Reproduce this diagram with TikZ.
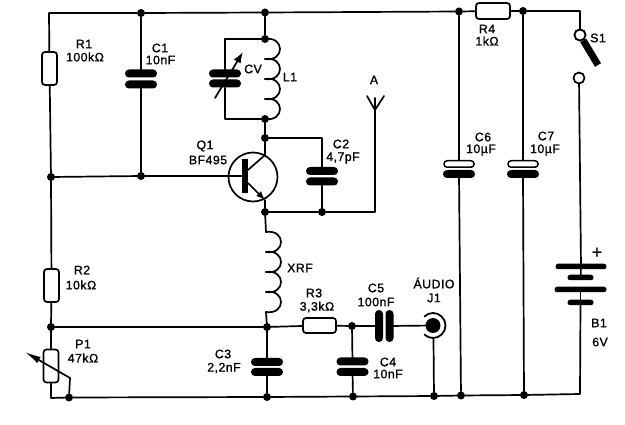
\documentclass[tikz,border=0pt]{standalone}
\usepackage{fontspec}
\setmainfont[LetterSpace=4,FakeBold=1.2]{Liberation Sans}
\usetikzlibrary{arrows.meta}
\tikzset{
  wire/.style={line width=1.7pt,line cap=round,line join=round},
  dot/.style={circle,fill=black,inner sep=0pt,minimum size=8pt},
  res/.style={draw,fill=white,line width=1.7pt,rounded corners=3pt,inner sep=0pt},
  plate/.style={fill=black,rounded corners=3.9pt,inner sep=0pt,minimum width=32pt,minimum height=8pt},
  vplate/.style={fill=black,rounded corners=3.9pt,inner sep=0pt,minimum width=8pt,minimum height=32pt},
  openplate/.style={draw,fill=white,line width=1.5pt,rounded corners=3pt,inner sep=0pt,minimum width=30pt,minimum height=6.5pt},
  cell/.style={fill=black,rounded corners=2.6pt,inner sep=0pt,minimum height=5.5pt},
  contact/.style={circle,draw,fill=white,line width=1.7pt,inner sep=0pt,minimum size=11pt},
  lab/.style={font=\fontsize{12.3}{14}\selectfont,inner sep=0pt},
  biglab/.style={font=\fontsize{18}{18}\selectfont,inner sep=0pt},
}
\begin{document}
\begin{tikzpicture}[x=1pt,y=-1pt]
\useasboundingbox[fill=white] (0,0) rectangle (625,425);
% junctions
\coordinate (TL) at (49,13);
\node[dot] (jC1t) at (141,13) {};
\node[dot] (jQt) at (265,12.5) {};
\node[dot] (jR4l) at (459,11.5) {};
\node[dot] (jR4r) at (523,11) {};
\coordinate (TR) at (580,11);
\node[dot] (jL) at (51,177) {};
\node[dot] (jC1b) at (141,176) {};
\node[dot] (jLt) at (265,39) {};
\node[dot] (jLb) at (265,119) {};
\node[dot] (jC) at (265,138) {};
\node[dot] (jE) at (265,212) {};
\node[dot] (jC2b) at (322,212) {};
\node[dot] (jP) at (51,327) {};
\node[dot] (jX) at (267,327) {};
\node[dot] (jR3) at (352,326) {};
\coordinate (BL) at (51,398);
\node[dot] (bP) at (69,397.5) {};
\node[dot] (bC3) at (267,397) {};
\node[dot] (bC4) at (353,396.5) {};
\node[dot] (bJ) at (434,396) {};
\node[dot] (bC6) at (461,395.5) {};
\node[dot] (bC7) at (524,395) {};
\coordinate (BR) at (580,394);
\coordinate (CVtl) at (225,39);
\coordinate (CVbl) at (225,119);
\coordinate (Xt) at (266,232);
\coordinate (Xb) at (266,312);
\coordinate (Atop) at (375,98);
\coordinate (Aj) at (375,110);
\coordinate (Al) at (367,96);
\coordinate (Ar) at (384,96);
\coordinate (Ac) at (375,212);
% resistors
\node[res,minimum width=15pt,minimum height=33pt] (R1) at (49.5,68.5) {};
\node[res,minimum width=15pt,minimum height=33pt] (R2) at (51.5,285.5) {};
\node[res,minimum width=15pt,minimum height=33pt] (P1) at (51,366) {};
\node[res,minimum width=33pt,minimum height=15pt] (R3) at (319.5,325.5) {};
\node[res,minimum width=34pt,minimum height=16pt] (R4) at (493,11) {};
% capacitors
\node[plate] (C1a) at (141,73.5) {};
\node[plate] (C1b) at (141,84.5) {};
\node[plate] (CVa) at (225,73.5) {};
\node[plate] (CVb) at (225,83.5) {};
\node[plate] (C2a) at (322,171) {};
\node[plate] (C2b) at (322,181.5) {};
\node[plate] (C3a) at (267,362) {};
\node[plate] (C3b) at (267,372) {};
\node[plate] (C4a) at (352.5,361.5) {};
\node[plate] (C4b) at (352.5,372) {};
\node[vplate] (C5a) at (379,326) {};
\node[vplate] (C5b) at (389.5,326) {};
\node[openplate] (C6a) at (459,164) {};
\node[plate] (C6b) at (459,174) {};
\node[openplate] (C7a) at (523,164) {};
\node[plate] (C7b) at (523,174) {};
% battery
\node[cell,minimum width=51pt] (B1a) at (581,266.5) {};
\node[cell,minimum width=26pt] (B1b) at (580.5,277.5) {};
\node[cell,minimum width=52pt] (B1c) at (580.5,289.5) {};
\node[cell,minimum width=26pt] (B1d) at (580.5,302.5) {};
% switch
\node[contact] (S1a) at (580,35) {};
\node[contact] (S1b) at (579,78) {};
\coordinate (S1e) at (598,65);
% jack
\node[circle,fill=black,inner sep=0pt,minimum size=15pt] (J1) at (433,325.5) {};
\coordinate (J1b) at (433.5,339);
% transistor
\node[circle,draw,line width=1.7pt,minimum size=49pt,inner sep=0pt] (Q1) at (253,177) {};
\node[fill=black,inner sep=0pt,minimum width=6pt,minimum height=34pt] (Qb) at (245,176) {};
\coordinate (Qc0) at (248,170);
\coordinate (Qc1) at (265,155);
\coordinate (Qe0) at (248,183);
\coordinate (Qe1) at (265,200);
% wires
\draw[wire] (jC1t) -- (TL) -- (R1);
\draw[wire] (jC1t) -- (jQt) -- (jR4l) -- (R4) -- (jR4r) -- (TR) -- (S1a);
\draw[wire] (R1) -- (jL) -- (jC1b) -- (Qb);
\draw[wire] (jC1t) -- (C1a);
\draw[wire] (C1b) -- (jC1b);
\draw[wire] (jL) -- (R2) -- (jP) -- (P1) -- (BL) -- (bP) -- (bC3) -- (bC4) -- (bJ) -- (bC6) -- (bC7) -- (BR) -- (B1d);
\draw[wire] (jP) -- (jX) -- (R3) -- (jR3) -- (C5a);
\draw[wire] (C5b) -- (J1);
\draw[wire] (J1b) -- (bJ);
\draw[wire] (jR3) -- (C4a);
\draw[wire] (C4b) -- (bC4);
\draw[wire] (jX) -- (C3a);
\draw[wire] (C3b) -- (bC3);
\draw[wire] (jQt) -- (jLt) -- (CVtl) -- (CVa);
\draw[wire] (CVb) -- (CVbl) -- (jLb) -- (jC) -- (Qc1) -- (Qc0);
\draw[wire] (jC) -- (jC -| C2a) -- (C2a);
\draw[wire] (C2b) -- (jC2b);
\draw[wire] (jE) -- (jC2b) -- (Ac) -- (Atop);
\draw[wire] (Al) -- (Aj) -- (Ar);
\draw[wire] (Qe1) -- (jE) -- (Xt);
\draw[wire,-{Latex[length=9pt,width=7pt]}] (Qe0) -- (Qe1);
\draw[wire] (Xb) -- (jX);
\draw[wire] (jR4l) -- (C6a);
\draw[wire] (jR4r) -- (C7a);
\draw[wire] (C6b) -- (bC6);
\draw[wire] (C7b) -- (bC7);
\draw[line width=7pt] (S1a) -- (S1e);
\node[contact] at (S1a) {};
\draw[wire] (S1b) -- (B1a);
\draw[wire] (B1a) -- (B1b);
\draw[wire] (B1c) -- (B1d);
% coils
\foreach \y in {39,59,79,99}
  \draw[wire] (265,\y) .. controls (285,{\y-3}) and (285,{\y+23}) .. (265,{\y+20});
\foreach \y in {232,252,272,292}
  \draw[wire] (266,\y) .. controls (286,{\y-3}) and (286,{\y+23}) .. (266,{\y+20});
% variable capacitor arrow
\coordinate (CVs) at (215,98);
\coordinate (CVe) at (243,52);
\draw[wire,-{Latex[length=11pt,width=8pt]}] (CVs) -- (CVe);
% pot wiper
\coordinate (Pw) at (70,378);
\coordinate (Pe) at (25,352);
\draw[wire] (bP) -- (Pw);
\draw[wire,-{Latex[length=16pt,width=7pt]}] (Pw) -- (Pe);
% jack ring
\draw[line width=1.8pt] (J1)++(-135:12.5pt) arc[start angle=-135,end angle=135,radius=12.5pt];
% labels
\node[lab] at (84,44) {R1};
\node[lab] at (85,57) {100kΩ};
\node[lab] at (160,48) {C1};
\node[lab] at (160.5,60) {10nF};
\node[lab] at (253,69) {CV};
\node[lab] at (290,77) {L1};
\node[lab] at (374,80) {A};
\node[lab] at (205,146) {Q1};
\node[lab] at (208,160) {BF495};
\node[lab] at (341,144) {C2};
\node[lab] at (343,158) {4,7pF};
\node[lab] at (487,29) {R4};
\node[lab] at (487,41) {1kΩ};
\node[lab] at (598,38) {S1};
\node[lab] at (483,137) {C6};
\node[lab] at (481,150) {10µF};
\node[lab] at (546,136) {C7};
\node[lab] at (545,150) {10µF};
\node[biglab] at (597,253) {+};
\node[lab] at (599,323) {B1};
\node[lab] at (600,342) {6V};
\node[lab] at (300,268) {XRF};
\node[lab] at (314,293) {R3};
\node[lab] at (317,307) {3,3kΩ};
\node[lab] at (376,288) {C5};
\node[lab] at (376,302) {100nF};
\node[lab] at (434,283) {ÁUDIO};
\node[lab] at (434,298) {J1};
\node[lab] at (388,362) {C4};
\node[lab] at (388,374) {10nF};
\node[lab] at (223,354) {C3};
\node[lab] at (224,368) {2,2nF};
\node[lab] at (82,270) {R2};
\node[lab] at (81,285) {10kΩ};
\node[lab] at (83,344) {P1};
\node[lab] at (83,358) {47kΩ};
\end{tikzpicture}
\end{document}
